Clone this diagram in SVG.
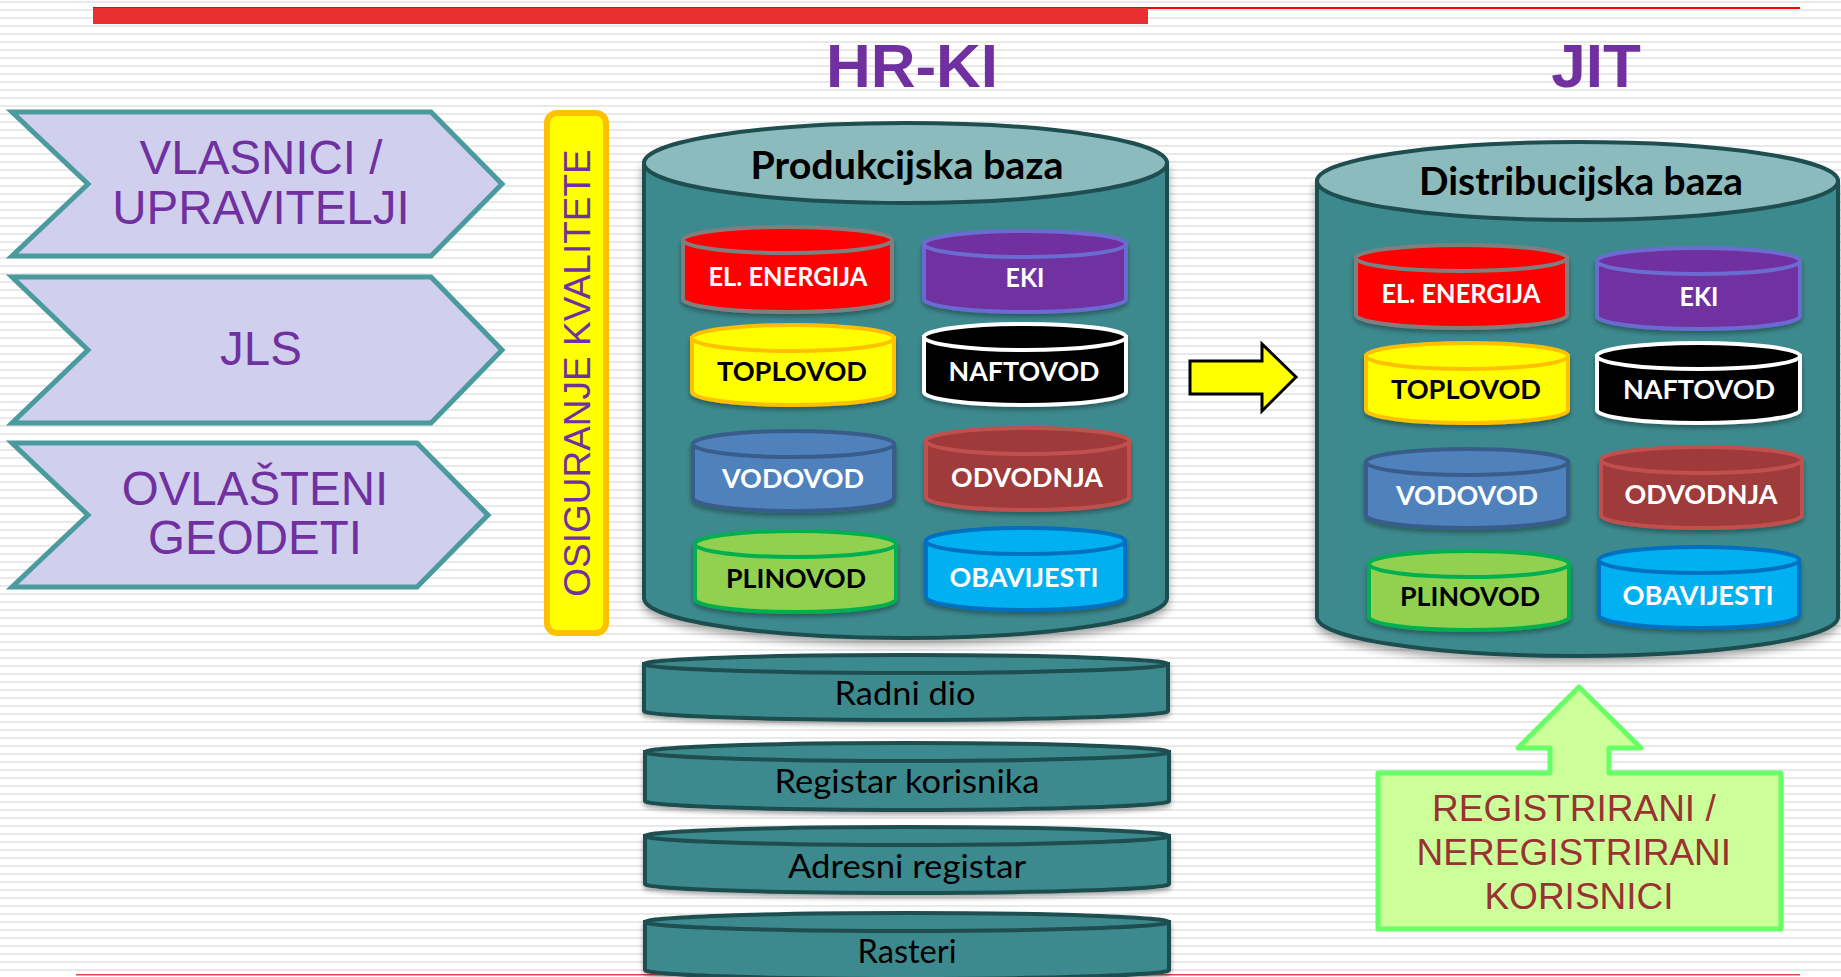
<svg xmlns="http://www.w3.org/2000/svg" width="1841" height="977" viewBox="0 0 1841 977">
<defs>
<pattern id="stripes" x="0" y="0" width="16" height="8" patternUnits="userSpaceOnUse">
<rect x="0" y="0" width="16" height="8" fill="#FFFFFF"/>
<rect x="0" y="1" width="16" height="2" fill="#E9E9E9"/>
</pattern>
<filter id="shadow" x="-10%" y="-10%" width="120%" height="130%">
<feDropShadow dx="0" dy="5" stdDeviation="4" flood-color="#000" flood-opacity="0.35"/>
</filter>
<filter id="shadowS" x="-10%" y="-10%" width="120%" height="140%">
<feDropShadow dx="0" dy="3" stdDeviation="2.5" flood-color="#000" flood-opacity="0.35"/>
</filter>
</defs>
<style>
.chev{fill:#D0D0EE;stroke:#4A9A9E;stroke-width:5}
.ctext{font-family:"Liberation Sans",Arial,sans-serif;font-size:47.5px;fill:#7030A0;text-anchor:middle}
.title{font-family:"Liberation Sans",Arial,sans-serif;font-size:62px;font-weight:bold;fill:#7030A0;text-anchor:middle}
.bigbody{fill:#3C8A8E;stroke:#1E4E50;stroke-width:4}
.bigtop{fill:#8CBBBD;stroke:#1E4E50;stroke-width:4}
.bigtext{font-family:Lato,"Open Sans",sans-serif;font-size:39px;font-weight:bold;fill:#000;text-anchor:middle}
.lbl{font-family:Lato,"Open Sans",sans-serif;font-size:26px;font-weight:bold;text-anchor:middle}
.flat{fill:#3C8A8E;stroke:#1E4E50;stroke-width:4}
.flattext{font-family:Lato,"Open Sans",sans-serif;font-size:32px;fill:#000;text-anchor:middle}
.sw{stroke-width:4}
</style>
<rect x="0" y="0" width="1841" height="977" fill="url(#stripes)"/>
<rect x="93" y="7" width="1707" height="2" fill="#FF0000"/>
<rect x="93" y="8" width="1055" height="16" fill="#E83030"/>
<rect x="76" y="974" width="1724" height="1.5" fill="#E04848"/>

<text class="title" x="912" y="87">HR-KI</text>
<text class="title" x="1596" y="87">JIT</text>

<g id="vlasnici">
<polygon class="chev" points="12,112 431,112 502,184 431,256 12,256 88,184"/>
<text class="ctext" x="261" y="174">VLASNICI /</text>
<text class="ctext" x="261" y="224">UPRAVITELJI</text>
</g>
<g id="jls">
<polygon class="chev" points="12,277 431,277 502,350 431,423 12,423 88,350"/>
<text class="ctext" x="261" y="365">JLS</text>
</g>
<g id="geodeti">
<polygon class="chev" points="12,443 417,443 488,515 417,587 12,587 88,515"/>
<text class="ctext" x="255" y="505">OVLAŠTENI</text>
<text class="ctext" x="255" y="554">GEODETI</text>
</g>

<g id="kvaliteta">
<rect x="547" y="113" width="59" height="520" rx="10" ry="10" fill="#FFFF00" stroke="#FFC000" stroke-width="6"/>
<text transform="translate(590,373) rotate(-90)" font-family="Liberation Sans, Arial, sans-serif" font-size="37" fill="#7030A0" text-anchor="middle">OSIGURANJE KVALITETE</text>
</g>

<g id="produkcijska">
<path class="bigbody" filter="url(#shadow)" d="M644,163 L644,598 A261.5,40 0 0 0 1167,598 L1167,163 Z"/>
<ellipse class="bigtop" cx="905.5" cy="163" rx="261.5" ry="40"/>
<text class="bigtext" x="907" y="179" textLength="313" lengthAdjust="spacingAndGlyphs">Produkcijska baza</text>
</g>

<g id="p-el">
<path filter="url(#shadowS)" fill="#FF0000" stroke="#7F7F7F" class="sw" d="M683,240 L683,299 A104.5,13 0 0 0 892,299 L892,240 Z"/>
<ellipse cx="787.5" cy="240" rx="104.5" ry="13" fill="#FF0000" stroke="#7F7F7F" class="sw"/>
<text class="lbl" x="788" y="286" fill="#FFFFFF" textLength="159" lengthAdjust="spacingAndGlyphs">EL. ENERGIJA</text>
</g>
<g id="p-eki">
<path filter="url(#shadowS)" fill="#7030A0" stroke="#6B6BD2" class="sw" d="M924,244 L924,299 A101,13 0 0 0 1126,299 L1126,244 Z"/>
<ellipse cx="1025" cy="244" rx="101" ry="13" fill="#7030A0" stroke="#6B6BD2" class="sw"/>
<text class="lbl" x="1025" y="287" fill="#FFFFFF" textLength="39" lengthAdjust="spacingAndGlyphs">EKI</text>
</g>
<g id="p-toplovod">
<path filter="url(#shadowS)" fill="#FFFF00" stroke="#FFC000" class="sw" d="M692,338 L692,392 A101,13 0 0 0 894,392 L894,338 Z"/>
<ellipse cx="793" cy="338" rx="101" ry="13" fill="#FFFF00" stroke="#FFC000" class="sw"/>
<text class="lbl" x="792" y="381" fill="#000000" textLength="150" lengthAdjust="spacingAndGlyphs">TOPLOVOD</text>
</g>
<g id="p-naftovod">
<path filter="url(#shadowS)" fill="#000000" stroke="#FFFFFF" class="sw" d="M924,337 L924,392 A101,13 0 0 0 1126,392 L1126,337 Z"/>
<ellipse cx="1025" cy="337" rx="101" ry="13" fill="#000000" stroke="#FFFFFF" class="sw"/>
<text class="lbl" x="1024" y="381" fill="#FFFFFF" textLength="151" lengthAdjust="spacingAndGlyphs">NAFTOVOD</text>
</g>
<g id="p-vodovod">
<path filter="url(#shadowS)" fill="#4F81BD" stroke="#385D8A" class="sw" d="M693,444 L693,498 A100.5,13 0 0 0 894,498 L894,444 Z"/>
<ellipse cx="793.5" cy="444" rx="100.5" ry="13" fill="#4F81BD" stroke="#385D8A" class="sw"/>
<text class="lbl" x="793" y="488" fill="#FFFFFF" textLength="142" lengthAdjust="spacingAndGlyphs">VODOVOD</text>
</g>
<g id="p-odvodnja">
<path filter="url(#shadowS)" fill="#A03A3A" stroke="#C0504D" class="sw" d="M926,441 L926,497 A101.5,13 0 0 0 1129,497 L1129,441 Z"/>
<ellipse cx="1027.5" cy="441" rx="101.5" ry="13" fill="#A03A3A" stroke="#C0504D" class="sw"/>
<text class="lbl" x="1027" y="487" fill="#FFFFFF" textLength="152" lengthAdjust="spacingAndGlyphs">ODVODNJA</text>
</g>
<g id="p-plinovod">
<path filter="url(#shadowS)" fill="#92D050" stroke="#00B050" class="sw" d="M695,544 L695,599 A100.5,13 0 0 0 896,599 L896,544 Z"/>
<ellipse cx="795.5" cy="544" rx="100.5" ry="13" fill="#92D050" stroke="#00B050" class="sw"/>
<text class="lbl" x="796" y="588" fill="#000000" textLength="140" lengthAdjust="spacingAndGlyphs">PLINOVOD</text>
</g>
<g id="p-obavijesti">
<path filter="url(#shadowS)" fill="#00B0F0" stroke="#0070C0" class="sw" d="M926,541 L926,597 A99.5,13 0 0 0 1125,597 L1125,541 Z"/>
<ellipse cx="1025.5" cy="541" rx="99.5" ry="13" fill="#00B0F0" stroke="#0070C0" class="sw"/>
<text class="lbl" x="1024" y="587" fill="#FFFFFF" textLength="149" lengthAdjust="spacingAndGlyphs">OBAVIJESTI</text>
</g>

<g id="radni-dio">
<path class="flat" filter="url(#shadowS)" d="M644,664 L644,711 A262,9 0 0 0 1168,711 L1168,664 Z"/>
<ellipse class="flat" cx="906" cy="664" rx="262" ry="9"/>
<text class="flattext" x="905" y="705" textLength="141" lengthAdjust="spacingAndGlyphs">Radni dio</text>
</g>
<g id="registar-korisnika">
<path class="flat" filter="url(#shadowS)" d="M645,752 L645,801 A262,9 0 0 0 1169,801 L1169,752 Z"/>
<ellipse class="flat" cx="907" cy="752" rx="262" ry="9"/>
<text class="flattext" x="907" y="793" textLength="265" lengthAdjust="spacingAndGlyphs">Registar korisnika</text>
</g>
<g id="adresni-registar">
<path class="flat" filter="url(#shadowS)" d="M645,836 L645,884 A262,9 0 0 0 1169,884 L1169,836 Z"/>
<ellipse class="flat" cx="907" cy="836" rx="262" ry="9"/>
<text class="flattext" x="907" y="878" textLength="238" lengthAdjust="spacingAndGlyphs">Adresni registar</text>
</g>
<g id="rasteri">
<path class="flat" filter="url(#shadowS)" d="M645,922 L645,970 A262,9 0 0 0 1169,970 L1169,922 Z"/>
<ellipse class="flat" cx="907" cy="922" rx="262" ry="9"/>
<text class="flattext" x="907" y="963" textLength="99" lengthAdjust="spacingAndGlyphs">Rasteri</text>
</g>

<g id="distribucijska">
<path class="bigbody" filter="url(#shadow)" d="M1317,181 L1317,617 A260.5,39 0 0 0 1838,617 L1838,181 Z"/>
<ellipse class="bigtop" cx="1577.5" cy="181" rx="260.5" ry="39"/>
<text class="bigtext" x="1581" y="195" textLength="324" lengthAdjust="spacingAndGlyphs">Distribucijska baza</text>
</g>

<g id="d-el">
<path filter="url(#shadowS)" fill="#FF0000" stroke="#7F7F7F" class="sw" d="M1356,258 L1356,315 A105.5,13 0 0 0 1567,315 L1567,258 Z"/>
<ellipse cx="1461.5" cy="258" rx="105.5" ry="13" fill="#FF0000" stroke="#7F7F7F" class="sw"/>
<text class="lbl" x="1461" y="303" fill="#FFFFFF" textLength="159" lengthAdjust="spacingAndGlyphs">EL. ENERGIJA</text>
</g>
<g id="d-eki">
<path filter="url(#shadowS)" fill="#7030A0" stroke="#6B6BD2" class="sw" d="M1597,261 L1597,316 A101.5,13 0 0 0 1800,316 L1800,261 Z"/>
<ellipse cx="1698.5" cy="261" rx="101.5" ry="13" fill="#7030A0" stroke="#6B6BD2" class="sw"/>
<text class="lbl" x="1699" y="306" fill="#FFFFFF" textLength="39" lengthAdjust="spacingAndGlyphs">EKI</text>
</g>
<g id="d-toplovod">
<path filter="url(#shadowS)" fill="#FFFF00" stroke="#FFC000" class="sw" d="M1366,356 L1366,410 A101,13 0 0 0 1568,410 L1568,356 Z"/>
<ellipse cx="1467" cy="356" rx="101" ry="13" fill="#FFFF00" stroke="#FFC000" class="sw"/>
<text class="lbl" x="1466" y="399" fill="#000000" textLength="150" lengthAdjust="spacingAndGlyphs">TOPLOVOD</text>
</g>
<g id="d-naftovod">
<path filter="url(#shadowS)" fill="#000000" stroke="#FFFFFF" class="sw" d="M1597,356 L1597,410 A101.5,13 0 0 0 1800,410 L1800,356 Z"/>
<ellipse cx="1698.5" cy="356" rx="101.5" ry="13" fill="#000000" stroke="#FFFFFF" class="sw"/>
<text class="lbl" x="1699" y="399" fill="#FFFFFF" textLength="152" lengthAdjust="spacingAndGlyphs">NAFTOVOD</text>
</g>
<g id="d-vodovod">
<path filter="url(#shadowS)" fill="#4F81BD" stroke="#385D8A" class="sw" d="M1366,462 L1366,515 A101,13 0 0 0 1568,515 L1568,462 Z"/>
<ellipse cx="1467" cy="462" rx="101" ry="13" fill="#4F81BD" stroke="#385D8A" class="sw"/>
<text class="lbl" x="1467" y="505" fill="#FFFFFF" textLength="142" lengthAdjust="spacingAndGlyphs">VODOVOD</text>
</g>
<g id="d-odvodnja">
<path filter="url(#shadowS)" fill="#A03A3A" stroke="#C0504D" class="sw" d="M1601,460 L1601,515 A100.5,13 0 0 0 1802,515 L1802,460 Z"/>
<ellipse cx="1701.5" cy="460" rx="100.5" ry="13" fill="#A03A3A" stroke="#C0504D" class="sw"/>
<text class="lbl" x="1701" y="504" fill="#FFFFFF" textLength="153" lengthAdjust="spacingAndGlyphs">ODVODNJA</text>
</g>
<g id="d-plinovod">
<path filter="url(#shadowS)" fill="#92D050" stroke="#00B050" class="sw" d="M1369,564 L1369,617 A100,13 0 0 0 1569,617 L1569,564 Z"/>
<ellipse cx="1469" cy="564" rx="100" ry="13" fill="#92D050" stroke="#00B050" class="sw"/>
<text class="lbl" x="1470" y="606" fill="#000000" textLength="140" lengthAdjust="spacingAndGlyphs">PLINOVOD</text>
</g>
<g id="d-obavijesti">
<path filter="url(#shadowS)" fill="#00B0F0" stroke="#0070C0" class="sw" d="M1599,560 L1599,615 A100,13 0 0 0 1799,615 L1799,560 Z"/>
<ellipse cx="1699" cy="560" rx="100" ry="13" fill="#00B0F0" stroke="#0070C0" class="sw"/>
<text class="lbl" x="1698" y="605" fill="#FFFFFF" textLength="151" lengthAdjust="spacingAndGlyphs">OBAVIJESTI</text>
</g>

<g id="korisnici">
<polygon points="1378,773 1550,773 1550,748 1518,748 1579,687 1641,748 1609,748 1609,773 1781,773 1781,929 1378,929" fill="#CCFF99" stroke="#66FF66" stroke-width="5" stroke-linejoin="round"/>
<text font-family="Liberation Sans, Arial, sans-serif" font-size="37" fill="#993333" text-anchor="middle">
<tspan x="1579" y="821">REGISTRIRANI /</tspan>
<tspan x="1579" y="865">NEREGISTRIRANI</tspan>
<tspan x="1579" y="909">KORISNICI</tspan>
</text>
</g>

<g id="connectors">
<polygon points="1190,361 1262,361 1262,344 1296,377 1262,411 1262,394 1190,394" fill="#FFFF00" stroke="#000000" stroke-width="3"/>
</g>
</svg>
